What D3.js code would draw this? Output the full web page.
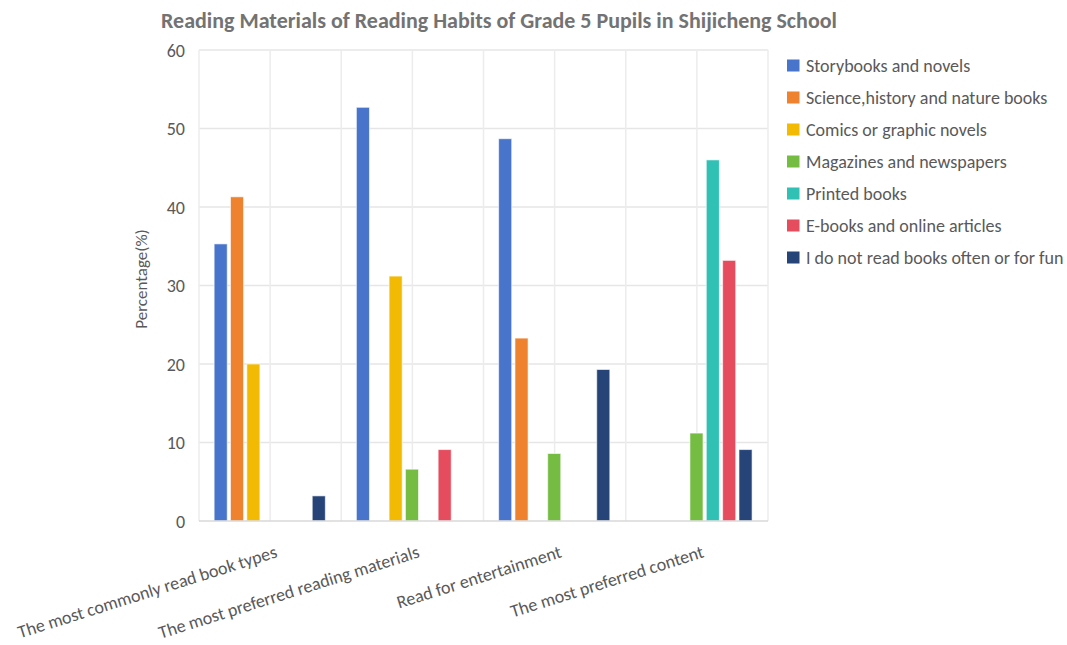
<!DOCTYPE html>
<html><head><meta charset="utf-8">
<script src="https://cdn.jsdelivr.net/npm/d3@7"></script>
<style>
html,body{margin:0;padding:0;background:#fff;}
text{font-family:Carlito, Calibri, Lato, "Open Sans", sans-serif;}
</style></head>
<body>
<svg id="chart" width="1067" height="645"></svg>
<script>
const categories = ["The most commonly read book types","The most preferred reading materials","Read for entertainment","The most preferred content"];
const seriesNames = ["Storybooks and novels","Science,history and nature books","Comics or graphic novels","Magazines and newspapers","Printed books","E-books and online articles","I do not read books often or for fun"];
const seriesColors = ["#4874CB","#EE822F","#F2BA02","#75BD42","#30C0B4","#E54C5E","#264478"];
// values per series, one per category (null = no bar)
const storybooks = [35.3, 52.7, 48.7, null];
const science    = [41.3, null, 23.3, null];
const comics     = [20.0, 31.2, null, null];
const magazines  = [null, 6.6, 8.6, 11.2];
const printed    = [null, null, null, 46.0];
const ebooks     = [null, 9.1, null, 33.2];
const notRead    = [3.2, null, 19.3, 9.1];
const seriesValues = [storybooks, science, comics, magazines, printed, ebooks, notRead];
const yTicks = [0,10,20,30,40,50,60];
const titleText = "Reading Materials of Reading Habits of Grade 5 Pupils in Shijicheng School";
const yTitle = "Percentage(%)";

const svg = d3.select("#chart");
const L = 199, R = 768, T = 50, B = 521;

const x0 = d3.scaleBand().domain(categories).range([L, R]).padding(0);
const x1 = d3.scaleBand().domain(seriesNames).range([13.5, 13.5 + 7 * 16.35]).paddingInner(0.2).paddingOuter(0.1);
const y = d3.scaleLinear().domain([0, 60]).range([B, T]);

// horizontal gridlines
svg.append("g").selectAll("line").data(yTicks.filter(d => d > 0)).join("line")
  .attr("x1", L).attr("x2", R).attr("y1", d => y(d)).attr("y2", d => y(d))
  .attr("stroke", "#e6e6e6").attr("stroke-width", 1.5);
// vertical gridlines at half-category positions
const vPos = [];
categories.forEach(c => { vPos.push(x0(c)); vPos.push(x0(c) + x0.bandwidth()/2); });
vPos.push(R);
svg.append("g").selectAll("line").data(vPos).join("line")
  .attr("x1", d => d).attr("x2", d => d).attr("y1", T).attr("y2", B)
  .attr("stroke", "#ececec").attr("stroke-width", 1.5);

// bars
const groups = svg.append("g").selectAll("g").data(categories).join("g")
  .attr("transform", c => `translate(${x0(c)},0)`);
groups.each(function(c, ci) {
  const data = seriesNames.map((s, si) => ({s, si, v: seriesValues[si][ci]})).filter(d => d.v != null);
  d3.select(this).selectAll("rect").data(data).join("rect")
    .attr("x", d => x1(d.s)).attr("width", x1.bandwidth())
    .attr("y", d => y(d.v)).attr("height", d => y(0) - y(d.v))
    .attr("fill", d => seriesColors[d.si])
    .attr("stroke", "#ffffff").attr("stroke-opacity", 0.6).attr("stroke-width", 1);
});

// x axis baseline
svg.append("line").attr("x1", L).attr("x2", R).attr("y1", B).attr("y2", B)
  .attr("stroke", "#d9d9d9").attr("stroke-width", 1.5);

// y axis labels
const yAxis = d3.axisLeft(y).tickValues(yTicks).tickSize(0).tickPadding(0);
const yg = svg.append("g").attr("transform", `translate(${L - 14},0)`).call(yAxis);
yg.select(".domain").remove();
yg.selectAll("text").attr("fill", "#595959").style("font-size", "18px").attr("text-anchor", "end").attr("dy", "0.35em");

// x axis labels
const xAxis = d3.axisBottom(x0).tickSize(0).tickPadding(0);
const xg = svg.append("g").attr("transform", `translate(0,${B})`).call(xAxis);
xg.select(".domain").remove();
xg.selectAll(".tick text")
  .attr("fill", "#595959").style("font-size", "18px")
  .attr("text-anchor", "end")
  .attr("x", 0).attr("y", 0).attr("dy", 0)
  .attr("transform", "translate(8,36) rotate(-17.5)");

// y title
svg.append("text").attr("transform", "translate(147,279) rotate(-90)")
  .attr("text-anchor", "middle").attr("fill", "#595959").style("font-size", "17px").text(yTitle);

// title
svg.append("text").attr("x", 499).attr("y", 28).attr("text-anchor", "middle")
  .attr("fill", "#737373").style("font-size", "22px").style("font-weight", "bold").text(titleText);

// legend
const lg = svg.append("g").selectAll("g").data(seriesNames).join("g")
  .attr("transform", (d, i) => `translate(787,${65.5 + i * 32})`);
lg.append("rect").attr("x", 0).attr("y", -6).attr("width", 12.5).attr("height", 12)
  .attr("fill", (d, i) => seriesColors[i]);
lg.append("text").attr("x", 19).attr("y", 0).attr("dy", "0.35em")
  .attr("fill", "#595959").style("font-size", "18px").text(d => d);
</script>
</body></html>
